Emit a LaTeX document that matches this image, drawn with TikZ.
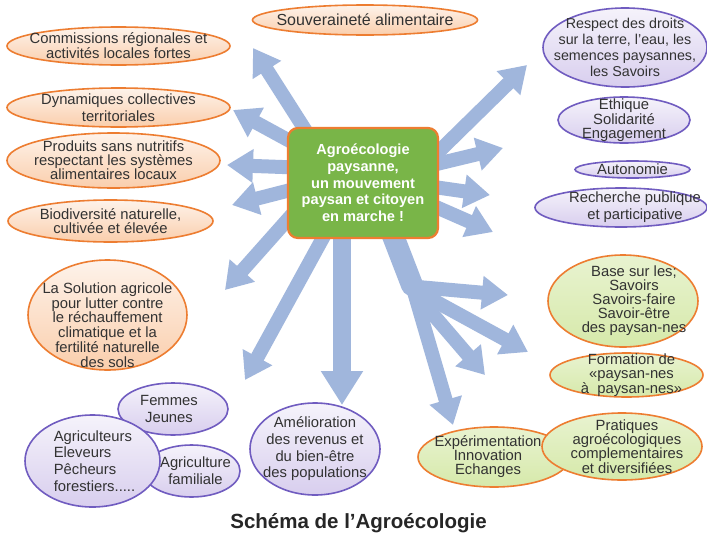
\documentclass[tikz,border=0pt]{standalone}
\usepackage{fontspec}
\setmainfont{Liberation Sans}
\usetikzlibrary{shapes.geometric,arrows.meta,backgrounds}
\definecolor{bordorange}{RGB}{237,125,49}
\definecolor{fondorange}{RGB}{250,206,172}
\definecolor{bordviolet}{RGB}{112,92,192}
\definecolor{fondviolet}{RGB}{216,206,238}
\definecolor{fondvert}{RGB}{214,233,170}
\definecolor{vertboite}{RGB}{121,181,72}
\definecolor{bleufleche}{RGB}{160,182,220}
\definecolor{gristexte}{RGB}{50,50,50}
\begin{document}
\begin{tikzpicture}[x=1pt,y=-1pt,
  bulle/.style={ellipse, line width=1.6pt, inner sep=0pt},
  borange/.style={bulle, draw=bordorange, top color=fondorange!25, bottom color=fondorange},
  bviolet/.style={bulle, draw=bordviolet, top color=fondviolet!25, bottom color=fondviolet},
  bvert/.style={bulle, draw=bordorange, top color=fondvert!55, bottom color=fondvert},
  texte/.style={align=center, text=gristexte, inner sep=0pt, font=\fontsize{14.8}{#1}\selectfont},
  texte/.default=14,
  fleche/.style={line width=14pt, draw=bleufleche, -{Triangle[width=32pt,length=26pt]}},
  branche/.style={fleche, line cap=round},
  grossefleche/.style={line width=18pt, draw=bleufleche, -{Triangle[width=40pt,length=34pt]}},
  boite/.style={rectangle, rounded corners=10pt, draw=bordorange, line width=2.2pt, fill=vertboite,
    minimum width=150pt, minimum height=110pt, align=center, text=white,
    font=\fontsize{14.6}{16.7}\selectfont\bfseries}]
  \useasboundingbox (0,0) rectangle (707,533);

  \node[boite] (centre) at (363,183) {Agroécologie\\paysanne,\\un mouvement\\paysan et citoyen\\en marche !};

  \begin{scope}[on background layer]
    \fill[white] (0,0) rectangle (707,533);
    \coordinate (t1) at (253,48);
    \coordinate (t2) at (233,110);
    \coordinate (t3) at (227,165);
    \coordinate (t4) at (232,205);
    \coordinate (t5) at (225,290);
    \coordinate (t6) at (245,380);
    \coordinate (t7) at (342,405);
    \coordinate (t8) at (527,65);
    \coordinate (t9) at (503,148);
    \coordinate (t10) at (490,195);
    \coordinate (t11) at (493,232);
    \coordinate (fourche) at (412,285);
    \coordinate (t12) at (508,295);
    \coordinate (t13) at (528,352);
    \coordinate (t14) at (485,375);
    \coordinate (t15) at (453,425);
    \draw[fleche] ([shift={(-45,-33)}]centre.center) -- (t1);
    \draw[fleche] ([shift={(-53,-31)}]centre.center) -- (t2);
    \draw[fleche] ([shift={(-53,-15)}]centre.center) -- (t3);
    \draw[fleche] ([shift={(-53,2)}]centre.center) -- (t4);
    \draw[fleche] ([shift={(-58,17)}]centre.center) -- (t5);
    \draw[fleche] ([shift={(-33,42)}]centre.center) -- (t6);
    \draw[grossefleche] ([shift={(-21,37)}]centre.center) -- (t7);
    \draw[fleche] ([shift={(57,-13)}]centre.center) -- (t8);
    \draw[fleche] ([shift={(57,-15)}]centre.center) -- (t9);
    \draw[fleche] ([shift={(57,2)}]centre.center) -- (t10);
    \draw[fleche] ([shift={(57,17)}]centre.center) -- (t11);
    \draw[line width=22pt, draw=bleufleche, line cap=round] ([shift={(27,45)}]centre.center) -- (fourche);
    \draw[branche] ([shift={(6,2)}]fourche) -- (t12);
    \draw[branche] ([shift={(8,8)}]fourche) -- (t13);
    \draw[branche] ([shift={(6,12)}]fourche) -- (t14);
    \draw[branche] (fourche) -- (t15);
  \end{scope}

  \node[borange, minimum width=225pt, minimum height=30pt,
    label={[texte, font=\fontsize{16}{16}\selectfont]center:Souveraineté alimentaire}] (souv) at (365,20) {};
  \node[borange, minimum width=223pt, minimum height=38pt,
    label={[texte=13.5]center:{Commissions régionales et\\activités locales fortes}}] (comm) at (118.5,46) {};
  \node[borange, minimum width=223pt, minimum height=39pt,
    label={[texte=16.7]center:{Dynamiques collectives\\territoriales}}] (dyna) at (118.5,107.5) {};
  \node[borange, minimum width=213pt, minimum height=55pt,
    label={[texte=13.4]center:{Produits sans nutritifs\\respectant les systèmes\\alimentaires locaux}}] (prod) at (113.5,160.5) {};
  \node[borange, minimum width=205pt, minimum height=42pt,
    label={[texte=13.5]center:{Biodiversité naturelle,\\cultivée et élevée}}] (biod) at (110.5,221) {};
  \node[borange, minimum width=159pt, minimum height=110pt,
    label={[texte=14.7, yshift=-10pt]center:{La Solution agricole\\pour lutter contre\\le réchauffement\\climatique et la\\fertilité naturelle\\des sols}}] (solu) at (107.5,315) {};

  \node[bviolet, minimum width=110pt, minimum height=52pt,
    label={[texte=16.7, xshift=-4pt]center:{Femmes\\Jeunes}}] (femm) at (173,409) {};
  \node[bviolet, minimum width=97pt, minimum height=52pt,
    label={[texte=16.7, xshift=4pt]center:{Agriculture\\familiale}}] (fami) at (191.5,471) {};
  \node[bviolet, minimum width=135pt, minimum height=92pt,
    label={[texte=16.7, align=left, xshift=2pt]center:{Agriculteurs\\Eleveurs\\Pêcheurs\\forestiers.....}}] (agri) at (92.5,461) {};
  \node[bviolet, minimum width=130pt, minimum height=92pt,
    label={[texte=16.7]center:{Amélioration\\des revenus et\\du bien-être\\des populations}}] (amel) at (315,449) {};

  \node[bviolet, minimum width=164pt, minimum height=79pt,
    label={[texte=16, font=\fontsize{14.3}{16}\selectfont]center:{Respect des droits\\sur la terre, l'eau, les\\semences paysannes,\\les Savoirs}}] (resp) at (625,47.5) {};
  \node[bviolet, minimum width=132pt, minimum height=46pt,
    label={[texte=13.5]center:{Ethique\\Solidarité\\Engagement}}] (ethi) at (624,120) {};
  \node[bviolet, minimum width=115pt, minimum height=17pt,
    label={[texte]center:Autonomie}] (auto) at (632.5,169.5) {};
  \node[bviolet, minimum width=172pt, minimum height=39pt,
    label={[texte=16.7, xshift=14pt]center:{Recherche publique\\et participative}}] (rech) at (621,207.5) {};

  \node[bvert, minimum width=150pt, minimum height=92pt,
    label={[texte=14, xshift=11pt]center:{Base sur les;\\Savoirs\\Savoirs-faire\\Savoir-être\\des paysan-nes}}] (base) at (623,301) {};
  \node[bvert, minimum width=153pt, minimum height=44pt,
    label={[texte=13.5, xshift=5pt]center:{Formation de\\«paysan-nes\\à~~paysan-nes»}}] (form) at (626.5,375) {};
  \node[bvert, minimum width=152pt, minimum height=60pt,
    label={[texte=14, xshift=-6pt]center:{Expérimentation\\Innovation\\Echanges}}] (expe) at (494,457) {};
  \node[bvert, minimum width=160pt, minimum height=67pt,
    label={[texte=14.3, xshift=5pt]center:{Pratiques\\agroécologiques\\complementaires\\et diversifiées}}] (prat) at (622,446.5) {};

  \node[font=\fontsize{20.5}{24}\selectfont\bfseries, text=black!85, anchor=base] (titre) at (358.5,528) {Schéma de l’Agroécologie};
\end{tikzpicture}
\end{document}
